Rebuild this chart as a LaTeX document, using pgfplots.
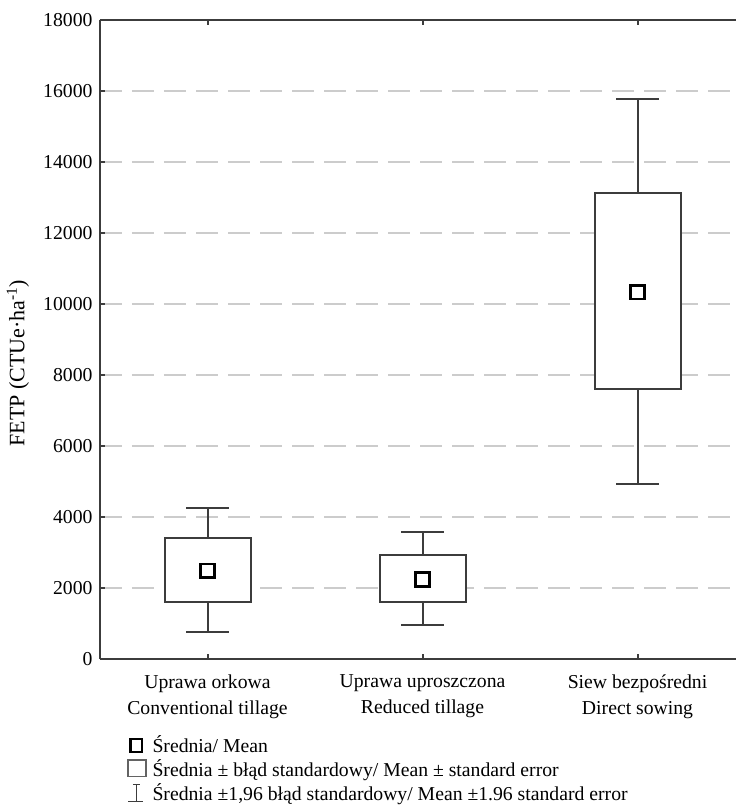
\documentclass[border=0pt]{standalone}
\usepackage{pgfplots}
\pgfplotsset{compat=1.18}
\usepackage{fontspec}
\setmainfont{Liberation Serif}
\definecolor{axgray}{HTML}{3C3C3C}
\definecolor{gridgray}{HTML}{CCCCCC}
\begin{document}
\begin{tikzpicture}[font=\fontsize{19.7}{26}\selectfont]
\begin{axis}[
  name=ax,
  scale only axis,
  width=636pt, height=639pt,
  xmin=-0.5, xmax=2.458,
  ymin=0, ymax=18000,
  axis x line=box, axis y line=left,
  x axis line style={-}, y axis line style={-},
  axis line style={draw=axgray, line width=2pt},
  major tick style={draw=axgray, line width=2pt},
  major tick length=5pt,
  tick align=inside,
  xtick={0,1,2},
  xticklabels={{Uprawa orkowa\\Conventional tillage},{Uprawa uproszczona\\Reduced tillage},{Siew bezpośredni\\Direct sowing}},
  xticklabel style={align=center, font=\fontsize{19.7}{26}\selectfont, yshift=-12pt},
  ytick={0,2000,4000,6000,8000,10000,12000,14000,16000,18000},
  scaled y ticks=false,
  /pgf/number format/assume math mode=true,
  yticklabel style={/pgf/number format/1000 sep={}, font=\fontsize{19.7}{22}\selectfont, xshift=-4pt},
  ymajorgrids,
  major grid style={draw=gridgray, dash pattern=on 22pt off 10pt, line width=1.3pt},
  every axis y label/.style={at={(axis description cs:-0.129,0.463)}, rotate=90, anchor=center, font=\fontsize{22}{26}\selectfont},
  ylabel={FETP (CTUe·ha\textsuperscript{-1})},
  unbounded coords=jump,
  legend cell align=left,
  legend style={at={(axis description cs:0.0425,-0.1228)}, anchor=north west, draw=none, fill=none,
    inner sep=0pt, row sep=2pt, column sep=6pt,
    nodes={inner sep=0pt, text height=13pt, text depth=5pt, font=\fontsize{19.7}{22}\selectfont}},
]
% boxes: mean +- standard error
\addplot[forget plot, draw=axgray, fill=white, line width=2pt]
  coordinates {(-0.2,1597) (0.2,1597) (0.2,3417) (-0.2,3417)} -- cycle;
\addplot[forget plot, draw=axgray, fill=white, line width=2pt]
  coordinates {(0.8,1597) (1.2,1597) (1.2,2921) (0.8,2921)} -- cycle;
\addplot[forget plot, draw=axgray, fill=white, line width=2pt]
  coordinates {(1.8,7600) (2.2,7600) (2.2,13127) (1.8,13127)} -- cycle;
% whiskers: mean +- 1.96 standard error
\addplot[forget plot, draw=axgray, line width=2pt] coordinates {
  (0,3417) (0,4262) (0,nan) (-0.1,4262) (0.1,4262) (0,nan)
  (0,1597) (0,752) (0,nan) (-0.1,752) (0.1,752) (0,nan)
  (1,2921) (1,3568) (1,nan) (0.9,3568) (1.1,3568) (1,nan)
  (1,1597) (1,958) (1,nan) (0.9,958) (1.1,958) (1,nan)
  (2,13127) (2,15775) (2,nan) (1.9,15775) (2.1,15775) (2,nan)
  (2,7600) (2,4938) (2,nan) (1.9,4938) (2.1,4938)
};
% means
\addplot[forget plot, only marks, mark=square, mark size=6.8pt,
  mark options={line width=2.8pt, draw=black, fill=white}]
  coordinates {(0,2487) (1,2245) (2,10330)};
\addlegendimage{legend image code/.code={\draw[line width=2.6pt, black] (2.5pt,-3.5pt) rectangle (14pt,9.5pt);}}
\addlegendentry{Średnia/ Mean}
\addlegendimage{legend image code/.code={\draw[line width=1.3pt, axgray!80] (0pt,-4pt) rectangle (18pt,12.5pt);}}
\addlegendentry{Średnia ± błąd standardowy/ Mean ± standard error}
\addlegendimage{legend image code/.code={\draw[line width=1.3pt, axgray] (8.5pt,-5pt) -- (8.5pt,12pt) (5pt,12pt) -- (12pt,12pt) (0.5pt,-5pt) -- (15.5pt,-5pt);}}
\addlegendentry{Średnia ±1,96 błąd standardowy/ Mean ±1.96 standard error}
\end{axis}
\pgfresetboundingbox
\path[use as bounding box] (ax.south west) ++(-100pt,-149pt) rectangle ++(736pt,808pt);
\end{tikzpicture}
\end{document}
